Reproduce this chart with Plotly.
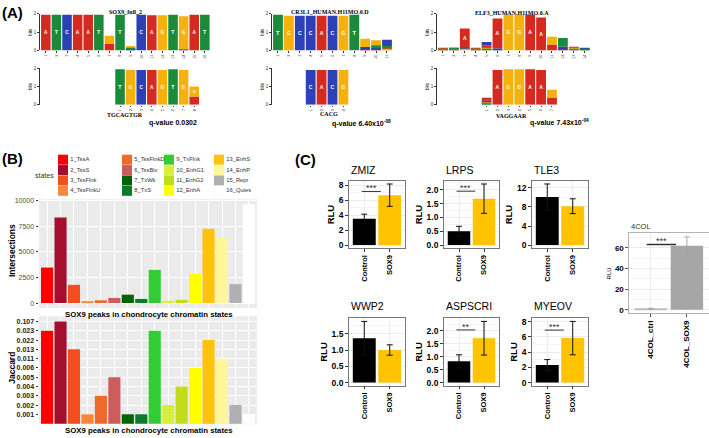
import plotly.graph_objects as go

W, H = 709, 438

# ---------------- Panel A data (sequence logos, bits per letter) ----------------
motif_names = ["SOX9_full_2", "CR3L1_HUMAN.H11MO.0.D", "ELF3_HUMAN.H11MO.0.A"]
match_names = ["TGCAGTGR", "CACG", "VAGGAAR"]
q_values = ["q-value 0.0302", "q-value 6.40x10<sup>-08</sup>", "q-value 7.43x10<sup>-04</sup>"]

sox9_full_2 = [
    {"A": 1.95}, {"T": 1.95}, {"C": 1.95}, {"A": 1.95}, {"A": 1.95}, {"T": 1.95},
    {"A": 0.35, "G": 0.45}, {"T": 1.95}, {"C": 0.04, "T": 0.06, "G": 0.14}, {"C": 1.95},
    {"A": 1.92}, {"G": 1.92}, {"T": 1.95}, {"C": 0.05, "G": 1.82}, {"A": 1.95}, {"T": 1.95},
]
tgcagtgr = [
    {"T": 1.95}, {"G": 1.9}, {"C": 1.9}, {"A": 1.9}, {"G": 1.9}, {"T": 1.95}, {"G": 1.9},
    {"A": 0.45, "G": 0.55},
]
cr3l1 = [
    {"T": 1.95}, {"G": 1.9}, {"C": 1.9}, {"C": 1.9}, {"A": 1.9}, {"C": 1.9}, {"G": 1.9}, {"T": 1.95},
    {"A": 0.04, "C": 0.15, "G": 0.45},
    {"A": 0.05, "C": 0.07, "T": 0.17, "G": 0.27},
    {"G": 0.04, "A": 0.08, "T": 0.12, "C": 0.35},
]
cacg = [{"C": 1.9}, {"A": 1.9}, {"C": 1.9}, {"G": 1.9}]
elf3 = [
    {"A": 0.03, "C": 0.02, "G": 0.02, "T": 0.02},
    {"A": 0.04, "C": 0.03, "G": 0.03, "T": 0.03},
    {"G": 0.05, "C": 0.07, "A": 1.08},
    {"A": 0.03, "C": 0.02, "G": 0.02, "T": 0.02},
    {"T": 0.05, "G": 0.08, "A": 0.15, "C": 0.18},
    {"C": 0.1, "A": 1.65},
    {"G": 1.95}, {"G": 1.95}, {"A": 1.95}, {"A": 1.8},
    {"A": 0.33, "G": 0.42},
    {"A": 0.05, "C": 0.15, "T": 0.48},
    {"C": 0.04, "T": 0.04, "G": 0.05, "A": 0.06},
    {"A": 0.03, "C": 0.03, "G": 0.02, "T": 0.02},
]
vaggaar = [
    {"T": 0.04, "G": 0.08, "C": 0.1, "A": 0.16},
    {"A": 1.9}, {"G": 1.95}, {"G": 1.95}, {"A": 1.95}, {"A": 1.9},
    {"A": 0.4, "G": 0.42},
]
motif_tops = [sox9_full_2, cr3l1, elf3]
motif_matches = [tgcagtgr, cacg, vaggaar]
match_offsets = [7, 3, 4]
letter_colors = {"A": "#D42A20", "C": "#2B41B5", "G": "#F5B10F", "T": "#1C8A3B"}

# ---------------- Panel B data ----------------
states = ["1_TssA", "2_TssS", "3_TssFlnk", "4_TssFlnkU", "5_TssFlnkD", "6_TssBiv", "7_TxWk", "8_TxS",
          "9_TxFlnk", "10_EnhG1", "11_EnhG2", "12_EnhA", "13_EnhS", "14_EnhP", "15_Repr", "16_Quies"]
state_colors = ["#FF0000", "#A50F2D", "#F24E1E", "#F7883A", "#EE6A2A", "#CD5C5C", "#006400", "#0E7A2E",
                "#32CD32", "#D8EE3C", "#C2DC1C", "#FFFF00", "#FFC20E", "#FFF59A", "#B0B0B0", "#FFFFFF"]
intersections = [3470, 8370, 1780, 100, 270, 500, 820, 400, 3240, 220, 320, 2850, 7260, 6350, 1850, 9660]
jaccard = [0.023, 0.107, 0.013, 0.001, 0.003, 0.005, 0.001, 0.001, 0.023, 0.002, 0.004, 0.006,
           0.022, 0.011, 0.002, 0.001]
intersection_ticks = [0, 2500, 5000, 7500, 10000]

# ---------------- Panel C data ----------------
genes = ["ZMIZ", "LRPS", "TLE3", "WWP2", "ASPSCRI", "MYEOV"]
conditions = ["Control", "SOX9"]
ctrl_mean = [3.55, 0.50, 10.05, 1.36, 0.82, 2.30]
ctrl_err = [0.60, 0.18, 2.75, 0.52, 0.25, 0.72]
sox9_mean = [6.70, 1.68, 8.15, 1.00, 1.71, 5.85]
sox9_err = [1.50, 0.53, 1.55, 0.16, 0.65, 2.20]
sig_label = ["***", "***", "", "", "**", "***"]
sig_height = [7.2, 1.95, None, None, 2.03, 6.9]
gene_dtick = [2, 0.5, 4, 0.5, 0.5, 2]
gene_tickfmt = ["d", ".1f", "d", ".1f", ".1f", "d"]

col4_labels = ["4COL_ctrl", "4COL_SOX9"]
col4_mean = [1.0, 62.0]
col4_err = [0.4, 8.5]
col4_sig = 63.3

# ---------------- helpers ----------------
layout = {}
traces = []
shapes = []
annotations = []
ax_count = [0]


def new_axes(xdom, ydom, xkw, ykw):
    ax_count[0] += 1
    n = ax_count[0]
    s = "" if n == 1 else str(n)
    layout["xaxis" + s] = dict(domain=[xdom[0] / W, xdom[1] / W], anchor="y" + s, **xkw)
    layout["yaxis" + s] = dict(domain=[1 - ydom[1] / H, 1 - ydom[0] / H], anchor="x" + s, **ykw)
    return "x" + s, "y" + s


def ann(x, y, text, size, bold=False, color="black", family="Liberation Sans", xanchor="center",
        angle=0):
    annotations.append(dict(x=x / W, y=1 - y / H, xref="paper", yref="paper", text=text,
                            showarrow=False, xanchor=xanchor, yanchor="middle", textangle=angle,
                            font=dict(size=size, color=color, family=family,
                                      weight="bold" if bold else "normal")))


def add_logo(positions, xa, ya):
    data = {L: dict(x=[], y=[], base=[], text=[]) for L in "ACGT"}
    for i, pos in enumerate(positions, start=1):
        cum = 0.0
        for L, h in sorted(pos.items(), key=lambda kv: kv[1]):
            d = data[L]
            d["x"].append(i)
            d["y"].append(h)
            d["base"].append(cum)
            d["text"].append(L if h >= 0.5 else "")
            cum += h
    for L, d in data.items():
        if d["x"]:
            traces.append(go.Bar(x=d["x"], y=d["y"], base=d["base"], text=d["text"], width=0.9,
                                 marker=dict(color=letter_colors[L], line=dict(width=0)),
                                 textposition="inside", insidetextanchor="middle", textangle=0,
                                 textfont=dict(color="white", size=12, family="Liberation Sans",
                                               weight="bold"),
                                 xaxis=xa, yaxis=ya, showlegend=False, hoverinfo="skip"))


# ---------------- Panel A ----------------
logo_x0 = [40, 272, 437]
logo_w = [10.6, 10.9, 10.9]
logo_rows = [(12, 49), (67, 104)]
title_xy = [(125, 10), (330, 10), (512, 11)]
match_xy = [(125, 114), (329, 113), (511, 115)]
q_xy = [(173, 122.5), (361, 123), (559, 122)]


def logo_axes(xdom, ydom, rng, n):
    xkw = dict(range=rng, tickvals=list(range(1, n + 1)), ticktext=[str(i) for i in range(1, n + 1)],
               tickangle=-90, tickfont=dict(size=4, color="#333"), ticks="outside", ticklen=1.5,
               tickcolor="#333", showgrid=False, zeroline=False, showline=False)
    ykw = dict(range=[0, 2], tickvals=[0, 1, 2], tickfont=dict(size=4.5, color="#333"),
               ticks="outside", ticklen=2, tickcolor="#333", showline=True, linecolor="#333",
               linewidth=0.8, showgrid=False, zeroline=False,
               title=dict(text="bits", font=dict(size=4.5), standoff=1))
    return new_axes(xdom, ydom, xkw, ykw)


for m in range(3):
    top = motif_tops[m]
    n_top = len(top)
    xdom = (logo_x0[m], logo_x0[m] + (n_top + 0.05) * logo_w[m])
    xa, ya = logo_axes(xdom, logo_rows[0], [0.45, n_top + 0.5], n_top)
    add_logo(top, xa, ya)
    off = match_offsets[m]
    bot = motif_matches[m]
    xa, ya = logo_axes(xdom, logo_rows[1], [0.45 - off, n_top + 0.5 - off], len(bot))
    add_logo(bot, xa, ya)
    ann(*title_xy[m], motif_names[m], 6, bold=True, family="Liberation Serif")
    ann(*match_xy[m], match_names[m], 6, bold=True, family="Liberation Serif")
    ann(*q_xy[m], q_values[m], 7, bold=True)

ann(0, 10.5, "(A)", 15, bold=True, xanchor="left")
ann(0, 158, "(B)", 15, bold=True, xanchor="left")
ann(293, 159, "(C)", 15, bold=True, xanchor="left")

# ---------------- Panel B bar charts ----------------
b_x = (39, 257)
cat_pos = list(range(1, len(states) + 1))
bx_kw = dict(range=[0.4, 16.6], tickvals=cat_pos, showticklabels=False, ticks="", showgrid=True,
             gridcolor="white", gridwidth=1, zeroline=False, showline=False)

xa, ya = new_axes(b_x, (199.5, 309.5), dict(bx_kw),
                  dict(range=[-480, 10150], tickvals=intersection_ticks,
                       ticktext=[str(v) for v in intersection_ticks],
                       tickfont=dict(size=7, color="#4D4D4D"), ticks="outside", ticklen=2.5,
                       tickcolor="#333", showgrid=True, gridcolor="white", gridwidth=1,
                       zeroline=False, showline=False))
traces.append(go.Bar(x=cat_pos, y=intersections, width=0.9,
                     marker=dict(color=state_colors, line=dict(width=0)),
                     xaxis=xa, yaxis=ya, showlegend=False, hoverinfo="skip"))
shapes.append(dict(type="rect", xref=xa + " domain", yref=ya + " domain", x0=0, x1=1, y0=0, y1=1,
                   fillcolor="#EBEBEB", line=dict(width=0), layer="below"))

jac_levels = sorted(set(jaccard))
jac_idx = [jac_levels.index(v) + 1 for v in jaccard]
xa, ya = new_axes(b_x, (318, 427), dict(bx_kw),
                  dict(range=[-0.05, len(jac_levels) + 0.55], tickvals=list(range(1, len(jac_levels) + 1)),
                       ticktext=[f"{v:.3f}" for v in jac_levels],
                       tickfont=dict(size=7, color="#222", weight="bold"), ticks="outside",
                       ticklen=2.5, tickcolor="#333", showgrid=True, gridcolor="white", gridwidth=1,
                       zeroline=False, showline=False))
traces.append(go.Bar(x=cat_pos, y=jac_idx, width=0.9,
                     marker=dict(color=state_colors, line=dict(width=0)),
                     xaxis=xa, yaxis=ya, showlegend=False, hoverinfo="skip"))
shapes.append(dict(type="rect", xref=xa + " domain", yref=ya + " domain", x0=0, x1=1, y0=0, y1=1,
                   fillcolor="#EBEBEB", line=dict(width=0), layer="below"))

ann(12, 252, "Intersections", 8.5, bold=True, angle=-90)
ann(12, 370, "Jaccard", 8.5, bold=True, angle=-90)
ann(149, 316, "SOX9 peaks in chondrocyte chromatin states", 7.8, bold=True)
ann(149, 433, "SOX9 peaks in chondrocyte chromatin states", 7.8, bold=True)

# ---------------- Panel B legend ----------------
legend_col_px = [63, 127, 169, 219]
legend_row_px = [159.5, 170, 180.5, 191]
xa, ya = new_axes((30, 330), (150, 198), dict(range=[30, 330], visible=False),
                  dict(range=[198, 150], visible=False))
traces.append(go.Scatter(x=[legend_col_px[i // 4] for i in range(len(states))],
                         y=[legend_row_px[i % 4] for i in range(len(states))],
                         mode="markers+text", text=states, textposition="middle right",
                         textfont=dict(size=5.8, color="#333"),
                         marker=dict(symbol="square", size=10, color=state_colors, line=dict(width=0)),
                         cliponaxis=False, xaxis=xa, yaxis=ya, showlegend=False, hoverinfo="skip"))
ann(33, 175, "states", 7, color="#333", xanchor="left")

# ---------------- Panel C ----------------
c_cols = [(349, 405), (444, 499), (532, 588)]
c_rows = [(181, 249), (320, 388)]
c_title_y = [170, 308]
gold = "#FFC300"

for k, g in enumerate(genes):
    r, c = divmod(k, 3)
    top = max(ctrl_mean[k] + ctrl_err[k], sox9_mean[k] + sox9_err[k])
    xa, ya = new_axes(c_cols[c], c_rows[r],
                      dict(range=[0.4, 2.6], tickvals=[1, 2], ticktext=conditions, tickangle=-90,
                           ticks="outside", ticklen=3, tickcolor="#333",
                           tickfont=dict(size=7.5, color="black", weight="bold"),
                           showgrid=True, gridcolor="#EBEBEB", showline=True, mirror=True,
                           linecolor="#777", linewidth=0.8, zeroline=False),
                      dict(range=[-0.05 * top, 1.05 * top], tick0=0, dtick=gene_dtick[k],
                           tickformat=gene_tickfmt[k], ticks="outside", ticklen=3, tickcolor="#333",
                           tickfont=dict(size=8.5, color="black", weight="bold"),
                           showgrid=True, gridcolor="#EBEBEB", showline=True, mirror=True,
                           linecolor="#777", linewidth=0.8, zeroline=False,
                           title=dict(text="RLU", font=dict(size=9.5, color="black", weight="bold"),
                                      standoff=2),
                           minor=dict(dtick=gene_dtick[k] / 2, showgrid=True, gridcolor="#F4F4F4",
                                      ticks="")))
    traces.append(go.Bar(x=[1, 2], y=[ctrl_mean[k], sox9_mean[k]], width=0.9,
                         marker=dict(color=["black", gold], line=dict(width=0)),
                         error_y=dict(type="data", array=[ctrl_err[k], sox9_err[k]], color="#111",
                                      thickness=1, width=3),
                         xaxis=xa, yaxis=ya, showlegend=False, hoverinfo="skip"))
    annotations.append(dict(x=c_cols[c][0] / W, y=1 - c_title_y[r] / H, xref="paper", yref="paper",
                            text=g, showarrow=False, xanchor="left", yanchor="middle",
                            font=dict(size=10.5, color="black")))
    if sig_label[k]:
        shapes.append(dict(type="line", xref=xa, yref=ya, x0=0.9, x1=1.65, y0=sig_height[k],
                           y1=sig_height[k], line=dict(color="#333", width=1)))
        annotations.append(dict(x=1.27, y=sig_height[k], xref=xa, yref=ya, text=sig_label[k],
                                showarrow=False, yanchor="bottom", yshift=-4,
                                font=dict(size=9, color="#333")))

# 4COL chart
top4 = max(m + e for m, e in zip(col4_mean, col4_err))
xa, ya = new_axes((629.3, 708.5), (234, 315),
                  dict(range=[0.4, 2.6], tickvals=[1, 2], ticktext=col4_labels, tickangle=-90,
                       ticks="outside", ticklen=3, tickcolor="#555",
                       tickfont=dict(size=8, color="black", weight="bold"),
                       showgrid=True, gridcolor="#EBEBEB", showline=True, mirror=True,
                       linecolor="#B3B3B3", linewidth=0.8, zeroline=False),
                  dict(range=[-0.05 * top4, 1.05 * top4], tick0=0, dtick=20, ticks="outside",
                       ticklen=3, tickcolor="#555", tickfont=dict(size=8, color="black", weight="bold"),
                       showgrid=True, gridcolor="#EBEBEB", showline=True, mirror=True,
                       linecolor="#B3B3B3", linewidth=0.8, zeroline=False,
                       title=dict(text="RLU", font=dict(size=6, color="black"), standoff=2),
                       minor=dict(dtick=10, showgrid=True, gridcolor="#F4F4F4", ticks="")))
traces.append(go.Bar(x=[1, 2], y=col4_mean, width=0.9,
                     marker=dict(color=["#BDBDBD", "#A6A6A6"], line=dict(width=0)),
                     error_y=dict(type="data", array=col4_err, color="#A0A0A0", thickness=0.8, width=3),
                     xaxis=xa, yaxis=ya, showlegend=False, hoverinfo="skip"))
shapes.append(dict(type="line", xref=xa, yref=ya, x0=0.885, x1=1.7, y0=col4_sig, y1=col4_sig,
                   line=dict(color="#333", width=1.5)))
annotations.append(dict(x=1.29, y=col4_sig, xref=xa, yref=ya, text="***", showarrow=False,
                        yanchor="bottom", yshift=-4, font=dict(size=9, color="#333")))
ann(629, 227.5, "4COL", 7.5, color="#333", xanchor="left")

fig = go.Figure(data=traces)
fig.update_layout(**layout)
fig.update_layout(width=W, height=H, margin=dict(l=0, r=0, t=0, b=0), paper_bgcolor="white",
                  plot_bgcolor="white", barmode="overlay", showlegend=False,
                  font=dict(family="Liberation Sans", color="black"),
                  shapes=shapes, annotations=annotations)
fig.write_html("out.html", config={"displayModeBar": False},
               post_script="document.body.style.margin='0';")
